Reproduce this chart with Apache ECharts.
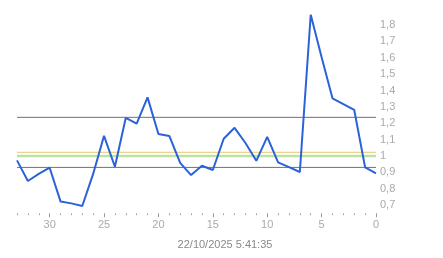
<!DOCTYPE html>
<html><head><meta charset="utf-8">
<script src="https://cdn.jsdelivr.net/npm/echarts@6/dist/echarts.min.js"></script>
<style>html,body{margin:0;padding:0;background:#fff}#c{width:443px;height:258px}</style>
</head><body><div id="c"></div>
<script>
const xValues = [33,32,31,30,29,28,27,26,25,24,23,22,21,20,19,18,17,16,15,14,13,12,11,10,9,8,7,6,5,4,3,2,1,0];
const values = [0.973,0.847,0.89,0.928,0.722,0.71,0.694,0.89,1.123,0.934,1.233,1.197,1.358,1.134,1.122,0.958,0.883,0.940,0.914,1.105,1.172,1.079,0.970,1.117,0.961,0.932,0.902,1.863,1.603,1.352,1.317,1.281,0.930,0.894];
const majorTicks = [0,5,10,15,20,25,30];
const minorTicks = [1,2,3,4,6,7,8,9,11,12,13,14,16,17,18,19,21,22,23,24,26,27,28,29,31,32,33];
const upperLine = 1.236;
const lowerLine = 0.930;
const yellowLine = 1.022;
const greenLine = 1.0;
const timestamp = '22/10/2025 5:41:35';

const chart = echarts.init(document.getElementById('c'), null, {renderer:'canvas'});
const font = 'Arial, "Liberation Sans", sans-serif';
function hline(v, color, width){
  return {type:'line', data:[[33,v],[0,v]], symbol:'none', silent:true,
    lineStyle:{color:color, width:width}, z:1, animation:false};
}
chart.setOption({
  animation:false,
  grid:{left:17, right:67, top:8.7, bottom:44.8, containLabel:false},
  title:{text:timestamp, left:220, top:234, textAlign:'center',
    textStyle:{fontSize:11, fontWeight:'normal', color:'#8a8a8a', fontFamily:font}},
  xAxis:[{
    type:'value', inverse:true, min:0, max:33, interval:1,
    axisLine:{show:false}, splitLine:{show:false},
    axisTick:{show:true, length:4, inside:false, lineStyle:{color:'#999'}, customValues:majorTicks},
    axisLabel:{margin:6, fontSize:11, color:'#aaa', fontFamily:font, customValues:majorTicks,
      formatter:v=>String(v)}
  },{
    type:'value', inverse:true, min:0, max:33, interval:1,
    position:'bottom',
    axisLine:{show:false}, splitLine:{show:false},
    axisTick:{show:true, length:2, inside:false, lineStyle:{color:'#aaa'}, customValues:minorTicks},
    axisLabel:{show:false}
  }],
  yAxis:{
    type:'value', position:'right', min:0.65, max:1.9, interval:0.05,
    axisLine:{show:false}, splitLine:{show:false}, axisTick:{show:false},
    axisLabel:{margin:4, fontSize:11, color:'#aaa', fontFamily:font,
      formatter:v=>{
        const k=Math.round(v*100);
        if(k%10!==0 || k<70 || k>180) return '';
        return (k/100).toString().replace('.',',');
      }}
  },
  series:[
    hline(greenLine,'#bfe0a8',2.5),
    hline(yellowLine,'#e8d48a',1.2),
    hline(upperLine,'#707070',1),
    hline(lowerLine,'#707070',1),
    {type:'line', data:xValues.map((x,i)=>[x,values[i]]), symbol:'none',
      lineStyle:{color:'#2b62d9', width:2}, z:5}
  ]
});
</script></body></html>
